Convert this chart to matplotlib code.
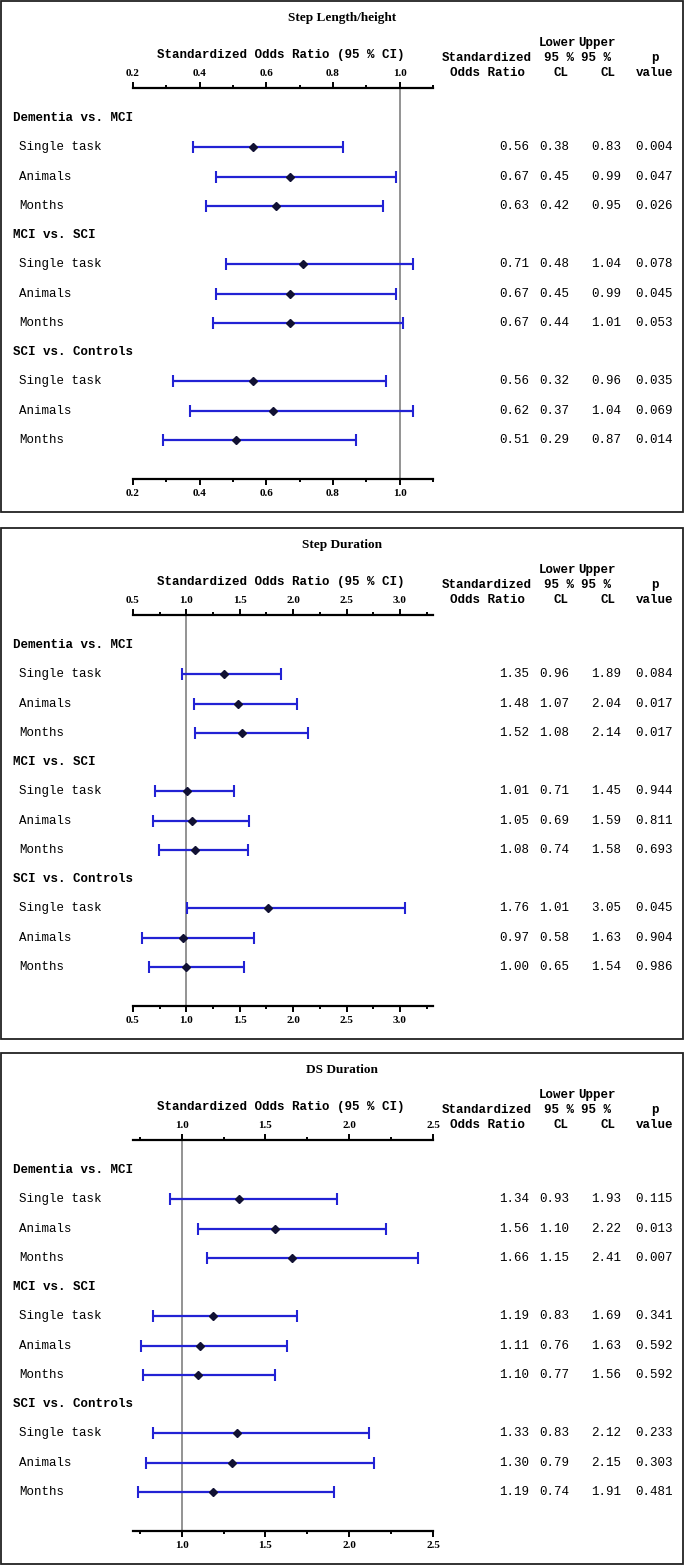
import matplotlib
matplotlib.use("Agg")
import matplotlib.pyplot as plt
import matplotlib.transforms as mtransforms
from matplotlib.patches import Rectangle
from matplotlib.ticker import MultipleLocator, FixedLocator

W, H = 685, 1567

# Data
groups = ["Dementia vs. MCI", "MCI vs. SCI", "SCI vs. Controls"]
tasks = ["Single task", "Animals", "Months"]

titles = ["Step Length/height", "Step Duration", "DS Duration"]

sl_or = [0.56, 0.67, 0.63, 0.71, 0.67, 0.67, 0.56, 0.62, 0.51]
sl_lo = [0.38, 0.45, 0.42, 0.48, 0.45, 0.44, 0.32, 0.37, 0.29]
sl_hi = [0.83, 0.99, 0.95, 1.04, 0.99, 1.01, 0.96, 1.04, 0.87]
sl_p = [0.004, 0.047, 0.026, 0.078, 0.045, 0.053, 0.035, 0.069, 0.014]

sd_or = [1.35, 1.48, 1.52, 1.01, 1.05, 1.08, 1.76, 0.97, 1.00]
sd_lo = [0.96, 1.07, 1.08, 0.71, 0.69, 0.74, 1.01, 0.58, 0.65]
sd_hi = [1.89, 2.04, 2.14, 1.45, 1.59, 1.58, 3.05, 1.63, 1.54]
sd_p = [0.084, 0.017, 0.017, 0.944, 0.811, 0.693, 0.045, 0.904, 0.986]

ds_or = [1.34, 1.56, 1.66, 1.19, 1.11, 1.10, 1.33, 1.30, 1.19]
ds_lo = [0.93, 1.10, 1.15, 0.83, 0.76, 0.77, 0.83, 0.79, 0.74]
ds_hi = [1.93, 2.22, 2.41, 1.69, 1.63, 1.56, 2.12, 2.15, 1.91]
ds_p = [0.115, 0.013, 0.007, 0.341, 0.592, 0.592, 0.233, 0.303, 0.481]

panels = [
    dict(title=titles[0], orr=sl_or, lo=sl_lo, hi=sl_hi, p=sl_p,
         xlim=(0.2, 1.1), major=[0.2, 0.4, 0.6, 0.8, 1.0], minor=0.1, off=0),
    dict(title=titles[1], orr=sd_or, lo=sd_lo, hi=sd_hi, p=sd_p,
         xlim=(0.5, 3.31), major=[0.5, 1.0, 1.5, 2.0, 2.5, 3.0], minor=0.25, off=527),
    dict(title=titles[2], orr=ds_or, lo=ds_lo, hi=ds_hi, p=ds_p,
         xlim=(0.71, 2.5), major=[1.0, 1.5, 2.0, 2.5], minor=0.25, off=1052),
]

MONO = "Liberation Mono"
SERIF = "Liberation Serif"
BLUE = "#2222d4"


def fx(x):
    return x / W


def fy(y):
    return 1 - y / H


fig = plt.figure(figsize=(W / 100, H / 100), dpi=100)

row_step = 29.27
for pan in panels:
    off = pan["off"]

    # panel frame
    fig.patches.append(Rectangle((fx(1), fy(off + 512)), fx(682), 511 / H,
                                 transform=fig.transFigure, fill=False,
                                 edgecolor="#222222", linewidth=1.3))

    fig.text(fx(342), fy(off + 18), pan["title"], family=SERIF, weight="bold",
             fontsize=9.5, ha="center", va="center")
    fig.text(fx(281), fy(off + 55), "Standardized Odds Ratio (95 % CI)",
             family=MONO, weight="bold", fontsize=9, ha="center", va="center")

    # column headers
    hdr = dict(family=MONO, weight="bold", fontsize=9, ha="center", va="center")
    fig.text(fx(487), fy(off + 58), "Standardized", **hdr)
    fig.text(fx(487), fy(off + 73), "Odds Ratio", **hdr)
    fig.text(fx(557), fy(off + 43), "Lower", **hdr)
    fig.text(fx(559), fy(off + 58), "95 %", **hdr)
    fig.text(fx(561), fy(off + 73), "CL", **hdr)
    fig.text(fx(597), fy(off + 43), "Upper", **hdr)
    fig.text(fx(596), fy(off + 58), "95 %", **hdr)
    fig.text(fx(608), fy(off + 73), "CL", **hdr)
    fig.text(fx(655), fy(off + 58), "p", **hdr)
    fig.text(fx(655), fy(off + 73), "value", **hdr)

    top_px, bot_px = off + 88, off + 479
    ax = fig.add_axes([fx(133), fy(bot_px), fx(433) - fx(133), (bot_px - top_px) / H])
    ax.set_xlim(*pan["xlim"])
    ax.set_ylim((479 - 118) / row_step, (88 - 118) / row_step)
    ax.patch.set_visible(False)
    for s in ["left", "right"]:
        ax.spines[s].set_visible(False)
    for s in ["top", "bottom"]:
        ax.spines[s].set_linewidth(1.6)
    ax.set_yticks([])
    ax.xaxis.set_major_locator(FixedLocator(pan["major"]))
    ax.xaxis.set_minor_locator(MultipleLocator(pan["minor"]))
    ax.tick_params(axis="x", which="both", top=True, bottom=True,
                   labeltop=True, labelbottom=True, direction="out", width=1.4)
    ax.tick_params(axis="x", which="major", length=4, pad=3)
    ax.tick_params(axis="x", which="minor", length=2.5)
    ax.set_xticklabels([f"{v:.1f}" for v in pan["major"]])
    for lab in ax.get_xticklabels():
        lab.set_family(SERIF)
        lab.set_fontsize(8)
        lab.set_weight("bold")

    ax.axvline(1.0, color="#8a8a8a", linewidth=1.3, zorder=1)

    trans = mtransforms.blended_transform_factory(fig.transFigure, ax.transData)
    rows = []
    k = 0
    for gi, g in enumerate(groups):
        gy = gi * 4
        ax.text(fx(13), gy, g, transform=trans, family=MONO, weight="bold",
                fontsize=9, ha="left", va="center")
        for ti, t in enumerate(tasks):
            y = gy + ti + 1
            rows.append(y)
            ax.text(fx(19), y, t, transform=trans, family=MONO, fontsize=9,
                    ha="left", va="center")
            cells = [f"{pan['orr'][k]:.2f}", f"{pan['lo'][k]:.2f}",
                     f"{pan['hi'][k]:.2f}", f"{pan['p'][k]:.3f}"]
            for xr, c in zip([529, 569, 621, 673], cells):
                ax.text(fx(xr), y, c, transform=trans, family=MONO, fontsize=9,
                        ha="right", va="center")
            k += 1

    orr, lo, hi = pan["orr"], pan["lo"], pan["hi"]
    xerr = [[o - l for o, l in zip(orr, lo)], [h - o for o, h in zip(orr, hi)]]
    ax.errorbar(orr, rows, xerr=xerr, fmt="none", ecolor=BLUE, elinewidth=1.6,
                capsize=4, capthick=1.5, zorder=3)
    ax.plot(orr, rows, "D", color="#111133", markersize=4, zorder=4)

fig.savefig("out.png", dpi=100)
